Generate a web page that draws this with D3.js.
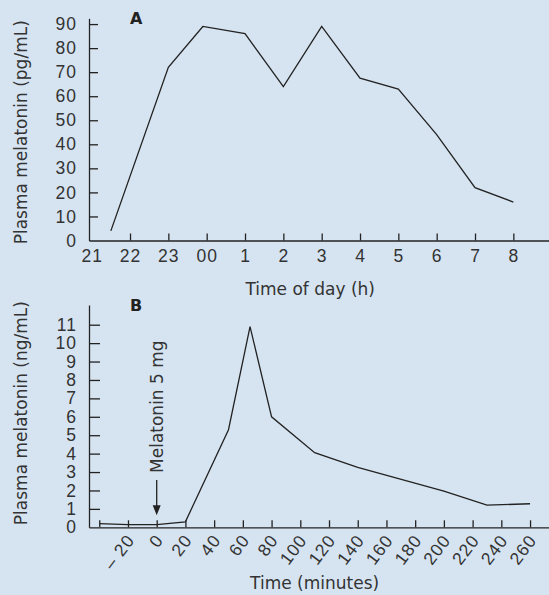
<!DOCTYPE html>
<html>
<head>
<meta charset="utf-8">
<script src="https://cdn.jsdelivr.net/npm/d3@7"></script>
<style>
  body { margin: 0; background: #d6e4f1; }
  svg { display: block; background: #d6e4f1; font-family: "DejaVu Sans", sans-serif; }
  .tick text { font-size: 17.5px; fill: #333; letter-spacing: 1px; }
  .tick line, .domain { stroke: #222; stroke-width: 1.3; }
  .title { font-size: 17px; fill: #333; }
  .panel { font-size: 16px; font-weight: bold; fill: #222; }
  .series { fill: none; stroke: #222; stroke-width: 1.3; stroke-linejoin: miter; }
</style>
</head>
<body>
<div class="container"></div>
<script>
const width = 549, height = 595;

// panel A: time of day (hours after midnight written as 24+)
const hoursA = [21.5, 23, 23.9, 25, 26, 27, 28, 29, 30, 31, 32];
const valuesA = [4, 72, 89, 86, 64, 89, 67.5, 63, 44, 22, 16];
const tickHoursA = [21, 22, 23, 24, 25, 26, 27, 28, 29, 30, 31, 32];
const tickLabelsA = ["21", "22", "23", "00", "1", "2", "3", "4", "5", "6", "7", "8"];
const yTicksA = [0, 10, 20, 30, 40, 50, 60, 70, 80, 90];

// panel B: minutes after 5 mg dose
const minutesB = [-40, -20, 0, 20, 50, 65, 80, 110, 140, 200, 230, 260];
const valuesB = [0.2, 0.15, 0.15, 0.3, 5.3, 10.9, 6, 4.05, 3.25, 1.97, 1.2, 1.28];
const tickMinutesB = [-40, -20, 0, 20, 40, 60, 80, 100, 120, 140, 160, 180, 200, 220, 240, 260];
const tickLabelsB = ["", "– 20", "0", "20", "40", "60", "80", "100", "120", "140", "160", "180", "200", "220", "240", "260"];
const yTicksB = [0, 1, 2, 3, 4, 5, 6, 7, 8, 9, 10, 11];

const svg = d3.select(".container")
    .append("svg")
    .attr("width", width)
    .attr("height", height);

// ---- panel A
const xA = d3.scaleLinear()
    .domain([20.93, 32.93])
    .range([89, 549]);

const yA = d3.scaleLinear()
    .domain([0, 92.4])
    .range([240.5, 18.3]);

svg.append("g")
    .attr("transform", `translate(0, ${yA(0)})`)
    .call(d3.axisBottom(xA)
        .tickValues(tickHoursA)
        .tickFormat((d, i) => tickLabelsA[i])
        .tickSize(-7)
        .tickSizeOuter(0)
        .tickPadding(9))
    .call(g => g.selectAll(".tick").filter(d => d === 21).select("line").remove());

svg.append("g")
    .attr("transform", `translate(${xA.range()[0]}, 0)`)
    .call(d3.axisLeft(yA)
        .tickValues(yTicksA)
        .tickSize(-9)
        .tickSizeOuter(0)
        .tickPadding(12))
    .call(g => g.selectAll(".tick").filter(d => d === 0).select("line").remove());

svg.append("path")
    .datum(hoursA.map((h, i) => [h, valuesA[i]]))
    .classed("series", true)
    .attr("d", d3.line().x(d => xA(d[0])).y(d => yA(d[1])));

svg.append("text")
    .classed("panel", true)
    .attr("x", xA(22))
    .attr("y", yA(90))
    .text("A");

svg.append("text")
    .classed("title", true)
    .attr("text-anchor", "middle")
    .attr("x", xA(26.7))
    .attr("y", yA(0) + 54)
    .text("Time of day (h)");

svg.append("text")
    .classed("title", true)
    .attr("text-anchor", "middle")
    .attr("transform", `translate(27, ${yA(45)}) rotate(-90)`)
    .text("Plasma melatonin (pg/mL)");

// ---- panel B
const xB = d3.scaleLinear()
    .domain([-47.15, 273.2])
    .range([89, 549]);

const yB = d3.scaleLinear()
    .domain([0, 12.07])
    .range([527.3, 305]);

svg.append("g")
    .attr("transform", `translate(0, ${yB(0)})`)
    .call(d3.axisBottom(xB)
        .tickValues(tickMinutesB)
        .tickFormat((d, i) => tickLabelsB[i])
        .tickSize(-7)
        .tickSizeOuter(0))
    .call(g => g.selectAll(".tick text")
        .attr("text-anchor", "end")
        .attr("y", 0)
        .attr("dy", 0)
        .attr("transform", "translate(7, 13) rotate(-53)"));

svg.append("g")
    .attr("transform", `translate(${xB.range()[0]}, 0)`)
    .call(d3.axisLeft(yB)
        .tickValues(yTicksB)
        .tickSize(-11)
        .tickSizeOuter(0)
        .tickPadding(12))
    .call(g => g.selectAll(".tick").filter(d => d === 0).select("line").remove());

svg.append("path")
    .datum(minutesB.map((m, i) => [m, valuesB[i]]))
    .classed("series", true)
    .attr("d", d3.line().x(d => xB(d[0])).y(d => yB(d[1])));

svg.append("text")
    .classed("panel", true)
    .attr("x", xA(22))
    .attr("y", yB(0) - 216)
    .text("B");

svg.append("text")
    .classed("title", true)
    .attr("text-anchor", "middle")
    .attr("x", xB(110))
    .attr("y", yB(0) + 62)
    .text("Time (minutes)");

svg.append("text")
    .classed("title", true)
    .attr("text-anchor", "middle")
    .attr("transform", `translate(27, ${yB(6.2)}) rotate(-90)`)
    .text("Plasma melatonin (ng/mL)");

// dose marker
svg.append("line")
    .attr("x1", xB(0)).attr("x2", xB(0))
    .attr("y1", yB(2.57)).attr("y2", yB(0.9))
    .attr("stroke", "#222")
    .attr("stroke-width", 1.3);

svg.append("path")
    .attr("d", `M${xB(0) - 4},${yB(1.2)} L${xB(0) + 4},${yB(1.2)} L${xB(0)},${yB(0.65)} Z`)
    .attr("fill", "#222");

svg.append("text")
    .classed("title", true)
    .attr("transform", `translate(${xB(0) + 6}, ${yB(2.95)}) rotate(-90)`)
    .text("Melatonin 5 mg");
</script>
</body>
</html>
